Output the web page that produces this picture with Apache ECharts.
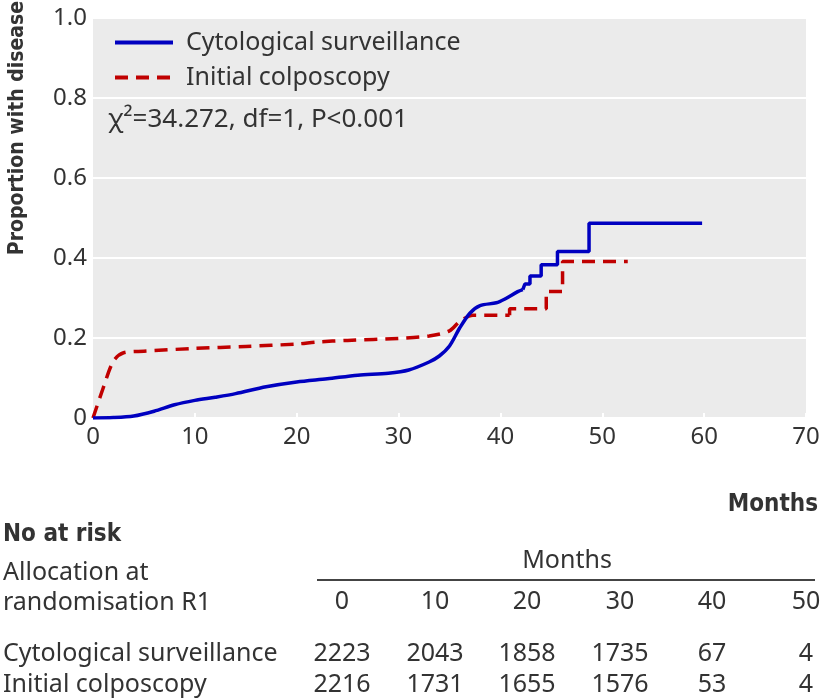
<!DOCTYPE html>
<html>
<head>
<meta charset="utf-8">
<script src="https://cdn.jsdelivr.net/npm/echarts@6/dist/echarts.min.js"></script>
<style>
html,body{margin:0;padding:0;background:#fff;}
#chart{width:824px;height:700px;}
</style>
</head>
<body>
<div id="chart"></div>
<script>
// ---- Data ----
var seriesNames = ['Cytological surveillance', 'Initial colposcopy'];
// smooth (continuous) part of each cumulative curve
var cytoSmooth = [
  [0,0],[2,0.001],[4,0.005],[6,0.017],[8,0.033],[10,0.044],[12,0.052],
  [14,0.061],[17,0.078],[20,0.09],[23,0.098],[26,0.107],
  [29,0.112],[31,0.12],[33,0.14],[34,0.155],[35,0.18],[36,0.225],
  [37,0.262],[38,0.281],[39.6,0.288],[40.4,0.297],
  [41.7,0.316],[42.2,0.321]
];
// stepped part
var cytoSteps = [
  [42.2,0.321],[42.4,0.335],[42.9,0.335],[42.9,0.355],[44.0,0.355],[44.0,0.383],
  [45.6,0.383],[45.6,0.416],[48.7,0.416],[48.7,0.487],[59.8,0.487]
];
var colpoSmooth = [
  [0,0],[1,0.075],[2,0.142],[3,0.163],[5,0.167],
  [10,0.174],[15,0.179],[20,0.185],[22,0.19],[25,0.194],[30,0.199],
  [33,0.205],[35,0.218],[36,0.241],[37.3,0.257],[40.9,0.257]
];
var colpoSteps = [
  [40.9,0.257],[40.9,0.273],[44.5,0.273],[44.5,0.316],[46.1,0.316],[46.1,0.391],[52.5,0.391]
];
var statText = 'χ²=34.272, df=1, P<0.001';
var yTitle = 'Proportion with disease';
var xTitle = 'Months';
var riskMonths = [0, 10, 20, 30, 40, 50];
var riskCyto = [2223, 2043, 1858, 1735, 67, 4];
var riskColpo = [2216, 1731, 1655, 1576, 53, 4];

// ---- Chart ----
var chart = echarts.init(document.getElementById('chart'));
var REG = '"Noto Sans", "Open Sans", sans-serif';
var BOLD = '"DejaVu Sans Condensed", "DejaVu Sans", sans-serif';
var TXT = '#333333';
var BLUE = '#0000c0', RED = '#c00000';

var graphics = [
  {type:'text', x:18, y:128, rotation:Math.PI/2, style:{text:yTitle, fontFamily:BOLD, fontWeight:'bold', fontSize:21, fill:TXT, align:'center', verticalAlign:'middle'}},
  {type:'text', x:108, y:120, style:{text:statText, fontFamily:REG, fontSize:26, fill:TXT, align:'left', verticalAlign:'middle'}},
  {type:'text', x:818, y:505, style:{text:xTitle, fontFamily:BOLD, fontWeight:'bold', fontSize:24, fill:TXT, align:'right', verticalAlign:'middle'}},
  {type:'text', x:3, y:535, style:{text:'No at risk', fontFamily:BOLD, fontWeight:'bold', fontSize:24, fill:TXT, align:'left', verticalAlign:'middle'}},
  {type:'text', x:3, y:573, style:{text:'Allocation at', fontFamily:REG, fontSize:25, fill:TXT, align:'left', verticalAlign:'middle'}},
  {type:'text', x:3, y:603, style:{text:'randomisation R1', fontFamily:REG, fontSize:25, fill:TXT, align:'left', verticalAlign:'middle'}},
  {type:'text', x:567, y:561, style:{text:'Months', fontFamily:REG, fontSize:25, fill:TXT, align:'center', verticalAlign:'middle'}},
  {type:'line', shape:{x1:317, y1:580, x2:815, y2:580}, style:{stroke:'#444', lineWidth:2}},
  {type:'text', x:3, y:654, style:{text:seriesNames[0], fontFamily:REG, fontSize:25, fill:TXT, align:'left', verticalAlign:'middle'}},
  {type:'text', x:3, y:685, style:{text:seriesNames[1], fontFamily:REG, fontSize:25, fill:TXT, align:'left', verticalAlign:'middle'}}
];
var colX = [342, 435, 527, 620, 712, 806];
riskMonths.forEach(function(m, i){
  graphics.push({type:'text', x:colX[i], y:602, style:{text:String(m), fontFamily:REG, fontSize:25, fill:TXT, align:'center', verticalAlign:'middle'}});
  graphics.push({type:'text', x:colX[i], y:654, style:{text:String(riskCyto[i]), fontFamily:REG, fontSize:25, fill:TXT, align:'center', verticalAlign:'middle'}});
  graphics.push({type:'text', x:colX[i], y:685, style:{text:String(riskColpo[i]), fontFamily:REG, fontSize:25, fill:TXT, align:'center', verticalAlign:'middle'}});
});

var blueLine = {color:BLUE, width:3.5};
var redLine = {color:RED, width:3.5, type:[13,8]};

var option = {
  animation: false,
  backgroundColor: '#ffffff',
  grid: {left:93, right:18, top:18, height:400, show:true, backgroundColor:'#ebebeb', borderWidth:0},
  legend: {
    orient:'vertical', left:108, top:25, itemWidth:58, itemHeight:14, itemGap:10,
    itemStyle:{opacity:0},
    lineStyle:{width:4},
    textStyle:{fontFamily:REG, fontSize:25, color:TXT, padding:[0,0,0,8]},
    data: seriesNames
  },
  xAxis: {
    type:'value', min:0, max:70, interval:10,
    axisLine:{show:false},
    axisTick:{show:true, inside:true, length:5, lineStyle:{color:'#ffffff', width:2}},
    splitLine:{show:false},
    axisLabel:{fontFamily:REG, fontSize:24, color:TXT, margin:7}
  },
  yAxis: {
    type:'value', min:0, max:1, interval:0.2,
    axisLine:{show:false},
    axisTick:{show:false},
    splitLine:{show:true, lineStyle:{color:'#ffffff', width:2}},
    axisLabel:{fontFamily:REG, fontSize:24, color:TXT, margin:6,
      formatter:function(v){ return v === 0 ? '0' : v.toFixed(1); }}
  },
  series: [
    {name:seriesNames[0], type:'line', data:cytoSmooth, smooth:0.3, showSymbol:false, symbol:'none',
     lineStyle:blueLine, itemStyle:{color:BLUE}, z:3},
    {name:seriesNames[0], type:'line', data:cytoSteps, showSymbol:false, symbol:'none',
     lineStyle:blueLine, itemStyle:{color:BLUE}, z:3},
    {name:seriesNames[1], type:'line', data:colpoSmooth, smooth:0.3, showSymbol:false, symbol:'none',
     lineStyle:redLine, itemStyle:{color:RED}, z:2},
    {name:seriesNames[1], type:'line', data:colpoSteps, showSymbol:false, symbol:'none',
     lineStyle:redLine, itemStyle:{color:RED}, z:2}
  ],
  graphic: graphics
};
chart.setOption(option);
</script>
</body>
</html>
